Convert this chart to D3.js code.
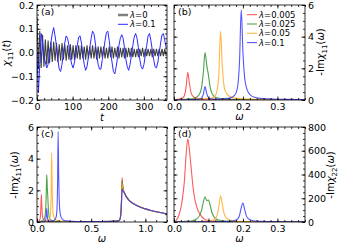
<!DOCTYPE html>
<html><head><meta charset="utf-8">
<script src="https://cdn.jsdelivr.net/npm/d3@7"></script>
<style>
body{margin:0;background:#fff;}
svg{display:block;font-family:"DejaVu Sans",sans-serif;}
</style></head><body>
<svg width="339" height="244"></svg>
<script>
var svg = d3.select('svg');

// ---- data: panel (a), chi11(t) sampled every tStep
const tStep = 3.9;
const chiLam0 = [
  0.15,-0.07,0.09,-0.065,0.075,-0.06,0.055,-0.05,0.05,-0.045,
  0.045,-0.04,0.045,-0.035,0.04,-0.04,0.035,-0.035,0.04,-0.03,
  0.035,-0.035,0.03,-0.03,0.035,-0.03,0.03,-0.03,0.03,-0.025,
  0.03,-0.03,0.03,-0.025,0.025,-0.03,0.03,-0.025,0.025,-0.025,
  0.03,-0.025,0.025,-0.03,0.025,-0.025,0.025,-0.02,0.025,-0.025,
  0.02,-0.025,0.025,-0.02,0.025,-0.025,0.02,-0.02,0.025,-0.025,
  0.02,-0.02,0.02,-0.025,0.02,-0.02,0.02,-0.02,0.02,-0.02,
  0.015,-0.02,0.015,-0.02,0.015,-0.015,0.02,-0.02,0.015,-0.015,
  0.015,-0.015,0.015,-0.02,0.015,-0.015,0.015,-0.015,0.015,-0.015,
  0.015,-0.015,0.015,-0.015
];
const chiLam01 = [
  0.0,-0.17,-0.05,0.08,0.04,-0.02,-0.04,-0.065,-0.05,0.0,
  0.04,0.08,0.105,0.07,0.03,-0.03,-0.07,-0.08,-0.05,0.0,
  0.04,0.07,0.06,0.03,-0.02,-0.05,-0.065,-0.04,0.0,0.03,
  0.065,0.07,0.04,-0.01,-0.05,-0.075,-0.06,-0.02,0.02,0.06,
  0.09,0.08,0.04,-0.01,-0.05,-0.07,-0.07,-0.03,0.01,0.05,
  0.085,0.09,0.05,0.0,-0.04,-0.08,-0.09,-0.06,-0.02,0.03,
  0.06,0.075,0.06,0.02,-0.03,-0.06,-0.075,-0.05,-0.01,0.03,
  0.065,0.08,0.06,0.02,-0.03,-0.06,-0.07,-0.05,-0.01,0.03,
  0.07,0.08,0.05,0.01,-0.03,-0.06,-0.065,-0.04,0.0,0.04,
  0.075,0.08,0.05,0.02
];

// ---- data: spectra
const wLow = [
  0,0.005,0.01,0.015,0.02,0.025,0.03,0.035,0.04,0.045,
  0.05,0.055,0.06,0.065,0.07,0.075,0.08,0.085,0.09,0.095,
  0.1,0.105,0.11,0.115,0.12,0.125,0.13,0.135,0.14,0.145,
  0.15,0.155,0.16,0.165,0.17,0.175,0.18,0.185,0.19,0.195,
  0.2,0.205,0.21,0.215,0.22,0.225,0.23,0.235,0.24,0.245,
  0.25,0.275,0.3,0.325,0.35,0.375,0.4
];
const wHigh = [0.45,0.5,0.55,0.6,0.65,0.7,0.74,0.76,0.77,0.78,0.785,0.79,0.795,0.8,0.81,0.82,0.84,0.86,0.88,0.9,0.95,1.0,1.05,1.1,1.15,1.2];

const lambdas = ['0.005', '0.025', '0.05', '0.1'];
const colors = ['#ff3030', '#1e8c1e', '#ffa514', '#2a2aff'];

// -Im chi11(w), on wLow then wHigh
const im11_a = [
  0.03,0.03,0.04,0.06,0.09,0.14,0.27,0.8,1.75,1.0,
  0.42,0.24,0.16,0.12,0.09,0.07,0.06,0.05,0.05,0.045,
  0.04,0.04,0.04,0.035,0.035,0.035,0.03,0.03,0.03,0.03,
  0.03,0.03,0.03,0.025,0.025,0.025,0.025,0.025,0.025,0.025,
  0.02,0.02,0.02,0.02,0.02,0.02,0.02,0.02,0.02,0.02,
  0.02,0.02,0.02,0.02,0.02,0.02,0.02,
  0.02,0.02,0.02,0.03,0.03,0.04,0.06,0.1,0.3,1.4,2.8,2.4,2.1,1.95,1.8,1.65,1.45,1.3,1.2,1.12,0.95,0.83,0.73,0.65,0.58,0.52
];
const im11_b = [
  0.02,0.02,0.025,0.03,0.035,0.04,0.045,0.05,0.06,0.07,
  0.08,0.1,0.13,0.18,0.26,0.42,0.8,1.7,3.0,2.2,
  1.55,0.8,0.42,0.26,0.18,0.14,0.11,0.09,0.08,0.07,
  0.06,0.055,0.05,0.05,0.045,0.045,0.04,0.04,0.04,0.035,
  0.035,0.035,0.03,0.03,0.03,0.03,0.03,0.03,0.03,0.03,
  0.03,0.03,0.025,0.025,0.02,0.02,0.02,
  0.02,0.02,0.02,0.03,0.03,0.04,0.06,0.1,0.3,1.35,2.6,2.35,2.1,1.95,1.8,1.65,1.45,1.3,1.2,1.12,0.95,0.83,0.73,0.65,0.58,0.52
];
const im11_c = [
  0.02,0.02,0.02,0.02,0.025,0.025,0.03,0.03,0.03,0.035,
  0.035,0.04,0.04,0.045,0.05,0.05,0.055,0.06,0.07,0.08,
  0.09,0.11,0.14,0.19,0.3,0.6,1.6,4.35,2.2,0.9,
  0.5,0.34,0.25,0.19,0.15,0.13,0.11,0.1,0.09,0.08,
  0.075,0.07,0.065,0.06,0.055,0.05,0.05,0.045,0.045,0.04,
  0.04,0.035,0.03,0.03,0.025,0.025,0.02,
  0.02,0.02,0.02,0.03,0.03,0.04,0.06,0.1,0.3,1.3,2.45,2.25,2.05,1.95,1.8,1.65,1.45,1.3,1.2,1.12,0.95,0.83,0.73,0.65,0.58,0.52
];
const im11_d = [
  0.01,0.01,0.01,0.015,0.015,0.015,0.02,0.02,0.02,0.025,
  0.025,0.03,0.03,0.035,0.04,0.06,0.12,0.35,0.85,0.4,
  0.15,0.08,0.06,0.055,0.055,0.06,0.06,0.065,0.07,0.08,
  0.09,0.1,0.12,0.15,0.2,0.28,0.45,0.9,2.4,5.7,
  3.0,1.4,0.8,0.5,0.35,0.26,0.2,0.17,0.14,0.12,
  0.1,0.07,0.05,0.04,0.035,0.03,0.03,
  0.03,0.03,0.03,0.035,0.04,0.05,0.07,0.11,0.3,1.2,2.1,2.0,1.95,1.9,1.8,1.65,1.45,1.3,1.2,1.12,0.95,0.83,0.73,0.65,0.58,0.52
];
// -Im chi22(w), on wLow
const im22_a = [
  3,10,30,65,120,210,340,560,700,600,
  450,300,200,135,95,68,48,32,22,16,
  12,10,8,7,6,5,5,4,4,4,
  3,3,3,3,3,3,2,2,2,2,
  2,2,2,2,2,2,2,2,2,2,
  2,1,1,1,1,1,1
];
const im22_b = [
  2,2,3,3,4,4,5,6,7,8,
  9,12,18,25,38,60,100,165,210,180,
  185,140,80,48,30,22,16,12,10,8,
  7,6,6,5,5,4,4,4,3,3,
  3,3,3,3,2,2,2,2,2,2,
  2,2,1,1,1,1,1
];
const im22_c = [
  1,1,1,1,2,2,2,2,2,3,
  3,3,3,4,4,4,5,5,6,7,
  8,10,13,18,28,55,130,220,150,75,
  42,27,19,14,11,9,7,6,5,5,
  4,4,4,3,3,3,3,3,2,2,
  2,2,2,1,1,1,1
];
const im22_d = [
  0,0,1,1,1,1,1,1,1,1,
  1,1,1,1,2,2,3,4,6,4,
  3,2,2,2,2,3,3,3,4,4,
  4,5,6,7,9,12,17,28,55,120,
  160,105,52,30,20,14,11,9,8,7,
  6,4,3,2,2,2,1
];

const wAll = wLow.concat(wHigh);
const im11 = [im11_a, im11_b, im11_c, im11_d];
const im22 = [im22_a, im22_b, im22_c, im22_d];

// ---- panels
let clipId = 0;
function makePanel(box, xDom, yDom) {
    const x = d3.scaleLinear().domain(xDom).range([box.x0, box.x1]);
    const y = d3.scaleLinear().domain(yDom).range([box.y1, box.y0]);
    const id = 'clip' + (clipId++);
    svg.append('clipPath').attr('id', id).append('rect')
        .attr('x', box.x0).attr('y', box.y0)
        .attr('width', box.x1 - box.x0).attr('height', box.y1 - box.y0);
    const g = svg.append('g').attr('clip-path', 'url(#' + id + ')');
    return {x: x, y: y, g: g, box: box};
}

function styleAxis(sel) {
    sel.select('.domain').remove();
    sel.selectAll('line').attr('stroke', '#000').attr('stroke-width', 0.8);
    sel.selectAll('text').attr('font-family', '"DejaVu Sans",sans-serif')
        .attr('font-size', 9.5).attr('fill', '#000');
}

function drawFrame(p, o) {
    const b = p.box;
    const sides = [
        {ax: d3.axisBottom(p.x), tr: 'translate(0,' + b.y1 + ')', maj: o.xMaj, min: o.xMin, fmt: o.xFmt, lab: true},
        {ax: d3.axisTop(p.x), tr: 'translate(0,' + b.y0 + ')', maj: o.xMaj, min: o.xMin, lab: false},
        {ax: d3.axisLeft(p.y), tr: 'translate(' + b.x0 + ',0)', maj: o.yMaj, min: o.yMin, fmt: o.yFmt, lab: !o.right},
        {ax: d3.axisRight(p.y), tr: 'translate(' + b.x1 + ',0)', maj: o.yMaj, min: o.yMin, fmt: o.yFmt, lab: o.right}
    ];
    sides.forEach(function(s) {
        const mk = function() { return s.ax.tickSizeOuter(0); };
        svg.append('g').attr('transform', s.tr)
            .call(mk().tickValues(s.min).tickSize(-2).tickFormat(''))
            .call(styleAxis);
        svg.append('g').attr('transform', s.tr)
            .call(mk().tickValues(s.maj).tickSize(-3.5).tickPadding(s.lab ? 3 : 0)
                .tickFormat(s.lab ? s.fmt : ''))
            .call(styleAxis);
    });
    svg.append('rect').attr('x', b.x0).attr('y', b.y0)
        .attr('width', b.x1 - b.x0).attr('height', b.y1 - b.y0)
        .attr('fill', 'none').attr('stroke', '#000').attr('stroke-width', 0.8);
    svg.append('text').attr('x', b.x0 + 4).attr('y', b.y0 + 10)
        .attr('font-size', 9.5).text(o.tag);
}

// parts: [text, italic?, 'sub' | undefined]
function mathText(sel, parts, size) {
    let shifted = false;
    parts.forEach(function(pt) {
        const ts = sel.append('tspan').text(pt[0]);
        if (pt[1]) ts.attr('font-style', 'italic');
        if (pt[2] === 'sub') {
            ts.attr('font-size', size * 0.7).attr('dy', size * 0.28);
            shifted = true;
        } else if (shifted) {
            ts.attr('dy', -size * 0.28);
            shifted = false;
        }
    });
}

function yLabel(xp, yp, parts) {
    const t = svg.append('text')
        .attr('transform', 'translate(' + xp + ',' + yp + ') rotate(-90)')
        .attr('text-anchor', 'middle').attr('font-size', 10);
    mathText(t, parts, 10);
}
function xLabel(p, txt, yp) {
    svg.append('text').attr('x', (p.box.x0 + p.box.x1) / 2).attr('y', yp)
        .attr('text-anchor', 'middle').attr('font-size', 10).attr('font-style', 'italic').text(txt);
}

const f1 = d3.format('.1f');
const fd = d3.format('d');

// (a)
const pa = makePanel({x0: 37, x1: 167, y0: 5, y1: 100}, [0, 365], [-0.2, 0.2]);
const tVals = chiLam0.map(function(d, i) { return i * tStep; });
const lineA = function(vals) {
    return d3.line().x(function(d, i) { return pa.x(tVals[i]); }).y(function(d) { return pa.y(d); })(vals);
};
pa.g.append('path').attr('d', lineA(chiLam0)).attr('fill', 'none')
    .attr('stroke', '#000').attr('stroke-opacity', 0.75).attr('stroke-width', 1.1);
pa.g.append('path').attr('d', lineA(chiLam01)).attr('fill', 'none')
    .attr('stroke', '#2a2aff').attr('stroke-width', 1);
drawFrame(pa, {xMaj: [0, 100, 200, 300], xMin: d3.range(0, 365, 20), xFmt: fd,
    yMaj: [-0.2, -0.1, 0, 0.1, 0.2], yMin: d3.range(-0.2, 0.2001, 0.02), yFmt: f1, tag: '(a)'});
xLabel(pa, 't', 121);
yLabel(10, 53, [['χ', true], ['11', false, 'sub'], ['(', false], ['t', true], [')', false]]);
// legend (a)
[['0', '#000', 0.5, 2.5], ['0.1', '#2a2aff', 1, 1]].forEach(function(l, i) {
    const yy = 15 + i * 9.3;
    svg.append('line').attr('x1', 118).attr('x2', 128).attr('y1', yy).attr('y2', yy)
        .attr('stroke', l[1]).attr('stroke-opacity', l[2]).attr('stroke-width', l[3]);
    const t = svg.append('text').attr('x', 130).attr('y', yy + 3).attr('font-size', 8.5);
    mathText(t, [['λ', true], ['=' + l[0], false]], 8.5);
});

// (b)
function spectrum(p, xs, series) {
    series.forEach(function(vals, k) {
        const ln = d3.line().curve(d3.curveMonotoneX)
            .x(function(d, i) { return p.x(xs[i]); }).y(function(d) { return p.y(d); });
        p.g.append('path').attr('d', ln(vals)).attr('fill', 'none')
            .attr('stroke', colors[k]).attr('stroke-opacity', 0.8).attr('stroke-width', 1.1);
    });
}
const pb = makePanel({x0: 174, x1: 305, y0: 5, y1: 100}, [0, 0.38], [0, 6]);
spectrum(pb, wAll, im11);
drawFrame(pb, {xMaj: [0, 0.1, 0.2, 0.3], xMin: d3.range(0, 0.381, 0.02), xFmt: f1,
    yMaj: [0, 2, 4, 6], yMin: d3.range(0, 6.01, 0.5), yFmt: fd, right: true, tag: '(b)'});
xLabel(pb, 'ω', 120);
yLabel(324, 52, [['-Im', false], ['χ', true], ['11', false, 'sub'], ['(', false], ['ω', true], [')', false]]);
lambdas.forEach(function(l, i) {
    const yy = 14.7 + i * 9.3;
    svg.append('line').attr('x1', 247).attr('x2', 257).attr('y1', yy).attr('y2', yy)
        .attr('stroke', colors[i]).attr('stroke-opacity', 0.8).attr('stroke-width', 1.1);
    const t = svg.append('text').attr('x', 259).attr('y', yy + 3).attr('font-size', 8.5);
    mathText(t, [['λ', true], ['=' + l, false]], 8.5);
});

// (c)
const pc = makePanel({x0: 37, x1: 167, y0: 127, y1: 222}, [0, 1.2], [0, 6]);
spectrum(pc, wAll, im11);
drawFrame(pc, {xMaj: [0, 0.5, 1.0], xMin: d3.range(0, 1.201, 0.1), xFmt: f1,
    yMaj: [0, 2, 4, 6], yMin: d3.range(0, 6.01, 0.5), yFmt: fd, tag: '(c)'});
xLabel(pc, 'ω', 242);
yLabel(18, 175, [['-Im', false], ['χ', true], ['11', false, 'sub'], ['(', false], ['ω', true], [')', false]]);

// (d)
const pd = makePanel({x0: 174, x1: 305, y0: 127, y1: 222}, [0, 0.38], [0, 800]);
spectrum(pd, wLow, im22);
drawFrame(pd, {xMaj: [0, 0.1, 0.2, 0.3], xMin: d3.range(0, 0.381, 0.02), xFmt: f1,
    yMaj: [0, 200, 400, 600, 800], yMin: d3.range(0, 801, 50), yFmt: fd, right: true, tag: '(d)'});
xLabel(pd, 'ω', 242);
yLabel(334, 175, [['-Im', false], ['χ', true], ['22', false, 'sub'], ['(', false], ['ω', true], [')', false]]);
</script></body></html>
